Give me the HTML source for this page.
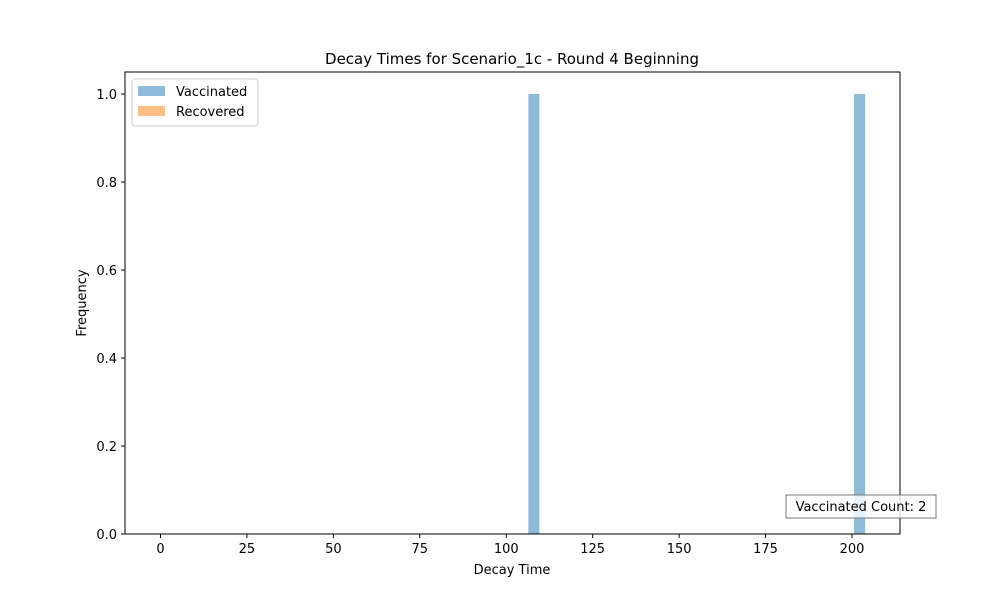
<!DOCTYPE html>
<html><head><meta charset="utf-8"><style>
body{margin:0;background:#fff;font-family:"Liberation Sans","DejaVu Sans",sans-serif;}
svg text{font-family:"DejaVu Sans","Liberation Sans",sans-serif;}
</style></head><body>
<svg id="chart" width="1000" height="600" xmlns="http://www.w3.org/2000/svg">
<rect width="1000" height="600" fill="#fff"/>
<text x="512" y="64" font-size="15" text-anchor="middle">Decay Times for Scenario_1c - Round 4 Beginning</text>
<g id="bars"></g>
<rect x="125" y="72" width="775" height="462" fill="none" stroke="#000" stroke-width="1"/>
<g id="xticks"></g><g id="yticks"></g>
<text x="512" y="574" font-size="13" text-anchor="middle">Decay Time</text>
<text transform="translate(86,303) rotate(-90)" font-size="13" text-anchor="middle">Frequency</text>
<g>
<rect x="132" y="79" width="126" height="47" fill="#fff" stroke="#ccc" rx="3"/>
<rect x="138" y="86" width="27" height="10" fill="#1f77b4" fill-opacity="0.5"/>
<text x="176" y="96" font-size="13">Vaccinated</text>
<rect x="138" y="106" width="27" height="10" fill="#ff7f0e" fill-opacity="0.5"/>
<text x="176" y="116" font-size="13">Recovered</text>
</g>
<g>
<rect x="786" y="495" width="150" height="23" fill="#fff" fill-opacity="0.8" stroke="#777"/>
<text x="861" y="511" font-size="13" text-anchor="middle">Vaccinated Count: 2</text>
</g>
</svg>
<script>
const vaccinatedBinStarts=[106.4,200.6];
const vaccinatedCounts=[1,1];
const recoveredBinStarts=[];
const recoveredCounts=[];
const binWidth=3.2;
const xTicks=[0,25,50,75,100,125,150,175,200];
const yTicks=[0,0.2,0.4,0.6,0.8,1.0];
const NS="http://www.w3.org/2000/svg";
function xs(v){return 160.5+v*(852-160.5)/200;}
function ys(v){return 534-v*440;}
function mk(t,a){const e=document.createElementNS(NS,t);for(const k in a)e.setAttribute(k,a[k]);return e;}
const bars=document.getElementById('bars');
vaccinatedBinStarts.forEach((b,i)=>{const r=mk('rect',{x:xs(b),y:ys(vaccinatedCounts[i]),width:xs(b+binWidth)-xs(b),height:ys(0)-ys(vaccinatedCounts[i]),fill:'#1f77b4','fill-opacity':0.5});


bars.appendChild(r);});
recoveredBinStarts.forEach((b,i)=>{const r=mk('rect',{x:xs(b),y:ys(recoveredCounts[i]),width:xs(b+binWidth)-xs(b),height:ys(0)-ys(recoveredCounts[i]),fill:'#ff7f0e','fill-opacity':0.5});


bars.appendChild(r);});
const xg=document.getElementById('xticks');
xTicks.forEach(v=>{const l=mk('line',{x1:xs(v),x2:xs(v),y1:534,y2:538,stroke:'#000'});


xg.appendChild(l);
const t=mk('text',{x:xs(v),y:553,'font-size':13,'text-anchor':'middle'});t.textContent=v;


xg.appendChild(t);});
const yg=document.getElementById('yticks');
yTicks.forEach(v=>{const l=mk('line',{x1:121,x2:125,y1:ys(v),y2:ys(v),stroke:'#000'});


yg.appendChild(l);
const t=mk('text',{x:117,y:ys(v)+5,'font-size':13,'text-anchor':'end'});t.textContent=v.toFixed(1);


yg.appendChild(t);});
</script>
</body></html>
